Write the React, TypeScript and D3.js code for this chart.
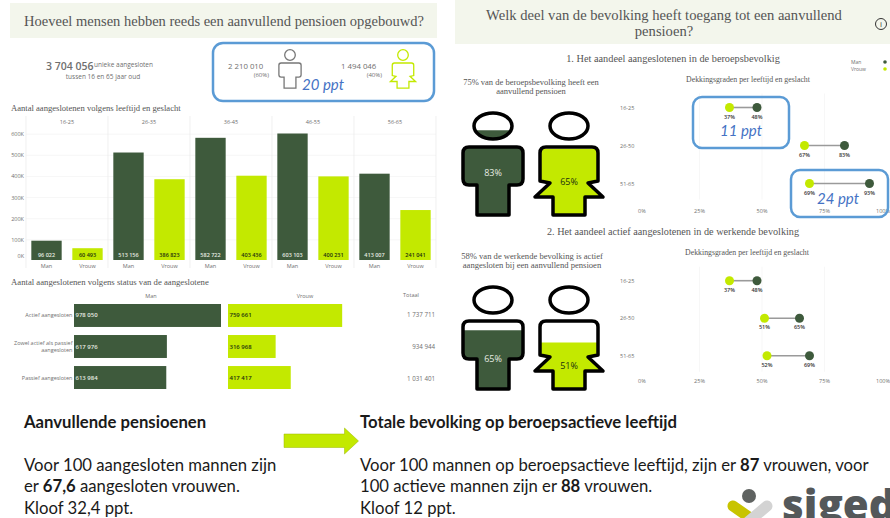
import * as d3 from 'd3'

const ages = ['16-25', '26-35', '36-45', '46-55', '56-65']
const genders = ['Man', 'Vrouw']
const menByAge = [96022, 513156, 582722, 603103, 413007]
const womenByAge = [60493, 386823, 403436, 400231, 241041]
const yTicks = [0, 100, 200, 300, 400, 500, 600]

const statuses = ['Actief aangesloten', 'Zowel actief als passief aangesloten', 'Passief aangesloten']
const menByStatus = [978050, 617976, 613984]
const womenByStatus = [759661, 316968, 417417]
const totalsByStatus = [1737711, 934944, 1031401]

const dumbbellAges = ['16-25', '26-50', '51-65']
const coverMen = [48, 83, 93]
const coverWomen = [37, 67, 69]
const activeMen = [48, 65, 69]
const activeWomen = [37, 51, 52]
const pctTicks = [0, 25, 50, 75, 100]

const DARK = '#3e5a3c'
const LIME = '#c3e900'
const BLUE = '#5b9bd5'
const PPT = '#4472c4'
const BAND = '#f3f6ec'
const GREY = '#6f6f6f'
const SERIF = '"Liberation Serif", serif'
const SANS = '"Open Sans", sans-serif'
const LATO = 'Lato, sans-serif'

const fmt = (v: number) => d3.format(',')(v).replace(/,/g, ' ')

const y = d3.scaleLinear().domain([0, 603103]).range([261, 133.5])
const ageBand = d3.scaleBand().domain(ages).range([26, 436])
const genderBand = d3.scaleBand().domain(genders).range([0, 82]).paddingInner(0.26).paddingOuter(0.13)
const statusBand = d3.scaleBand().domain(statuses).range([304, 389]).paddingInner(0.26)
const statusW = d3.scaleLinear().domain([0, 978050]).range([0, 147])
const pctX = d3.scaleLinear().domain([0, 100]).range([637, 887])

// outlines around a 0,0 centre at the top of the body
const manBody = (s: number) => {
  const w = 30 * s, h = 68 * s, sh = 38 * s, leg = 16 * s, r = 6 * s
  return `M${-w + r},0H${w - r}Q${w},0 ${w},${r}V${sh - r}Q${w},${sh} ${w - r},${sh}H${leg}V${h}H${-leg}V${sh}H${-w + r}Q${-w},${sh} ${-w},${sh - r}V${r}Q${-w},0 ${-w + r},0Z`
}
const womanBody = (s: number) => {
  const w = 29 * s, h = 68 * s, r = 6 * s
  return `M${-w + r},0H${w - r}Q${w},0 ${w},${r}V${34 * s}L${w - 10 * s},${36 * s}L${w + 5 * s},${50 * s}H${16 * s}V${h}H${-16 * s}V${50 * s}H${-w - 5 * s}L${-w + 10 * s},${36 * s}L${-w},${34 * s}V${r}Q${-w},0 ${-w + r},0Z`
}

function Figure({ cx, top, value, kind, color, labelY, labelFill, level }: {
  cx: number; top: number; value: number; kind: 'man' | 'woman'; color: string
  labelY: number; labelFill: string; level: d3.ScaleLinear<number, number>
}) {
  const id = `fill-${kind}-${Math.round(top)}`
  const body = kind === 'man' ? manBody(1) : womanBody(1)
  const bodyTop = top + 34
  const fillY = level(value)
  return (
    <g>
      <clipPath id={id}>
        <rect x={cx - 40} y={fillY} width={80} height={130} />
      </clipPath>
      <g clipPath={`url(#${id})`}>
        <ellipse cx={cx} cy={top + 13} rx={19} ry={13} fill={color} />
        <path d={body} transform={`translate(${cx},${bodyTop})`} fill={color} />
      </g>
      <ellipse cx={cx} cy={top + 13} rx={19} ry={13} fill="none" stroke="#000" strokeWidth={3.5} />
      <path d={body} transform={`translate(${cx},${bodyTop})`} fill="none" stroke="#000" strokeWidth={3.5} strokeLinejoin="round" />
      <text x={cx} y={labelY} textAnchor="middle" fontFamily={SANS} fontSize={9} fill={labelFill}>{value}%</text>
    </g>
  )
}

function Dumbbell({ men, women, rows, axisY, labelOffset }: {
  men: number[]; women: number[]; rows: [number, number]; axisY: number; labelOffset: number
}) {
  const rowY = d3.scalePoint<string>().domain(dumbbellAges).range(rows)
  return (
    <g fontFamily={SANS}>
      {pctTicks.slice(1, 4).map((t) => (
        <line key={t} x1={pctX(t)} x2={pctX(t)} y1={rows[0] - 14} y2={rows[1] + 16} stroke="#f4f4f4" strokeWidth={0.7} />
      ))}
      {dumbbellAges.map((a, i) => {
        const cy = rowY(a) as number
        return (
          <g key={a}>
            <text x={620} y={cy + 2} fontSize={5.5} fill={GREY}>{a}</text>
            <line x1={pctX(women[i])} x2={pctX(men[i])} y1={cy} y2={cy} stroke="#9a9a9a" strokeWidth={1.6} />
            <circle cx={pctX(women[i])} cy={cy} r={4.5} fill={LIME} />
            <circle cx={pctX(men[i])} cy={cy} r={4.5} fill={DARK} />
            <text x={pctX(women[i])} y={cy + labelOffset} textAnchor="middle" fontSize={5.5} fontWeight={600} fill="#333">{women[i]}%</text>
            <text x={pctX(men[i])} y={cy + labelOffset} textAnchor="middle" fontSize={5.5} fontWeight={600} fill="#333">{men[i]}%</text>
          </g>
        )
      })}
      {pctTicks.map((t) => (
        <text key={t} x={t === 0 ? pctX(t) + 1 : t === 100 ? 890 : pctX(t)} y={axisY} textAnchor={t === 0 ? 'start' : t === 100 ? 'end' : 'middle'} fontSize={5.5} fill={GREY}>{t}%</text>
      ))}
    </g>
  )
}

function AgeBars() {
  return (
    <g fontFamily={SANS}>
      {yTicks.map((t) => (
        <g key={t}>
          {t > 0 && <line x1={26} x2={436} y1={y(t * 1000)} y2={y(t * 1000)} stroke="#f2f2f2" strokeWidth={0.7} />}
          <text x={24} y={t === 0 ? 258 : y(t * 1000) + 2} textAnchor="end" fontSize={5.5} fill={GREY}>{t === 0 ? '0K' : `${t}K`}</text>
        </g>
      ))}
      {ages.map((age, i) => {
        const x0 = ageBand(age) as number
        return (
          <g key={age}>
            <line x1={x0} x2={x0} y1={116} y2={268} stroke="#e9e9e9" strokeWidth={0.7} />
            <text x={x0 + 41} y={124} textAnchor="middle" fontSize={5.5} fill={GREY}>{age}</text>
            {genders.map((g, j) => {
              const v = j === 0 ? menByAge[i] : womenByAge[i]
              const bx = x0 + (genderBand(g) as number)
              return (
                <g key={g}>
                  <rect x={bx} y={y(v)} width={genderBand.bandwidth()} height={y(0) - y(v) - 1} fill={j === 0 ? DARK : LIME} />
                  <text x={bx + genderBand.bandwidth() / 2} y={257} textAnchor="middle" fontSize={5.5} fontWeight={600} fill={j === 0 ? '#e6ece2' : '#22300f'}>{fmt(v)}</text>
                  <text x={bx + genderBand.bandwidth() / 2} y={268} textAnchor="middle" fontSize={5.5} fill={GREY}>{g}</text>
                </g>
              )
            })}
          </g>
        )
      })}
      <line x1={436} x2={436} y1={116} y2={268} stroke="#e9e9e9" strokeWidth={0.7} />
    </g>
  )
}

function StatusBars() {
  const rowLabels = [['Actief aangesloten'], ['Zowel actief als passief', 'aangesloten'], ['Passief aangesloten']]
  const totalShift = [0, 0, 1]
  return (
    <g fontFamily={SANS}>
      <text x={151} y={298} textAnchor="middle" fontSize={5.5} fill={GREY}>Man</text>
      <text x={305} y={298} textAnchor="middle" fontSize={5.5} fill={GREY}>Vrouw</text>
      <text x={411} y={297} textAnchor="middle" fontSize={5.5} fill={GREY}>Totaal</text>
      {statuses.map((s, i) => {
        const by = statusBand(s) as number
        const h = statusBand.bandwidth()
        const mid = by + h / 2
        return (
          <g key={s}>
            {rowLabels[i].map((l, k) => (
              <text key={l} x={72.5} y={mid + 2 + (k - (rowLabels[i].length - 1) / 2) * 7} textAnchor="end" fontSize={5.5} fill={GREY}>{l}</text>
            ))}
            <rect x={74} y={by} width={statusW(menByStatus[i])} height={h} fill={DARK} />
            <text x={75.5} y={mid + 2} fontSize={6} fontWeight={600} fill="#e6ece2">{fmt(menByStatus[i])}</text>
            <rect x={228} y={by} width={statusW(womenByStatus[i])} height={h} fill={LIME} />
            <text x={229.5} y={mid + 2} fontSize={6} fontWeight={600} fill="#22300f">{fmt(womenByStatus[i])}</text>
            <text x={435} y={mid + 2 + totalShift[i]} textAnchor="end" fontSize={6.2} fill={GREY}>{fmt(totalsByStatus[i])}</text>
          </g>
        )
      })}
    </g>
  )
}

export default function App() {
  const levelTop = d3.scaleLinear().domain([0, 100]).range([215, 113])
  const levelBottom = d3.scaleLinear().domain([0, 100]).range([388, 299])
  return (
    <svg width={890} height={518} style={{ position: 'absolute', left: 0, top: 0, background: '#fff' }}>
      {/* left column */}
      <rect x={10} y={3} width={427} height={35} fill={BAND} />
      <text x={224} y={26} textAnchor="middle" fontFamily={SERIF} fontSize={14.5} fill="#555">Hoeveel mensen hebben reeds een aanvullend pensioen opgebouwd?</text>

      <g fontFamily={SANS} fill={GREY}>
        <text x={46} y={70} fontSize={10.5} fontWeight={600}>3 704 056</text>
        <text x={94} y={67} fontSize={6.5}>unieke aangesloten</text>
        <text x={103} y={78.5} textAnchor="middle" fontSize={6.5}>tussen 16 en 65 jaar oud</text>
        <text x={228} y={69} fontSize={7.8}>2 210 010</text>
        <text x={269} y={77} textAnchor="end" fontSize={6}>(60%)</text>
        <text x={341} y={69} fontSize={7.8}>1 494 046</text>
        <text x={382} y={77} textAnchor="end" fontSize={6}>(40%)</text>
      </g>
      <rect x={213} y={43} width={221} height={58} rx={10} fill="none" stroke={BLUE} strokeWidth={2.5} />
      <circle cx={290} cy={55} r={5.3} fill="none" stroke="#777" strokeWidth={1.3} />
      <path d={manBody(0.37)} transform="translate(290,63)" fill="none" stroke="#777" strokeWidth={1.3} />
      <circle cx={403} cy={55} r={5.3} fill="none" stroke={LIME} strokeWidth={1.3} />
      <path d={womanBody(0.37)} transform="translate(403,63)" fill="none" stroke={LIME} strokeWidth={1.3} />
      <text x={323} y={90} textAnchor="middle" fontFamily={LATO} fontStyle="italic" fontSize={15} fill={PPT}>20 ppt</text>

      <text x={11} y={111} fontFamily={SERIF} fontSize={8.6} fill="#555">Aantal aangeslotenen volgens leeftijd en geslacht</text>
      <AgeBars />
      <text x={11} y={285} fontFamily={SERIF} fontSize={8.7} fill="#555">Aantal aangeslotenen volgens status van de aangeslotene</text>
      <StatusBars />

      {/* right column */}
      <rect x={455} y={0} width={435} height={44} fill={BAND} />
      <text x={664} y={20} textAnchor="middle" fontFamily={SERIF} fontSize={14.6} fill="#555">Welk deel van de bevolking heeft toegang tot een aanvullend</text>
      <text x={664} y={36} textAnchor="middle" fontFamily={SERIF} fontSize={14.6} fill="#555">pensioen?</text>
      <circle cx={881} cy={24} r={5.5} fill="none" stroke="#333" strokeWidth={1} />
      <text x={881} y={27} textAnchor="middle" fontFamily={SANS} fontSize={8} fill="#333">i</text>

      <g fontFamily={SERIF} fill="#555" textAnchor="middle">
        <text x={673} y={62} fontSize={10.3}>1. Het aandeel aangeslotenen in de beroepsbevolkig</text>
        <text x={531} y={85} fontSize={8.5}>75% van de beroepsbevolking heeft een</text>
        <text x={531} y={94} fontSize={8.5}>aanvullend pensioen</text>
        <text x={748} y={82} fontSize={7.8}>Dekkingsgraden per leeftijd en geslacht</text>
        <text x={673} y={235} fontSize={10.2}>2. Het aandeel actief aangeslotenen in de werkende bevolking</text>
        <text x={532} y={259} fontSize={8.6}>58% van de werkende bevolking is actief</text>
        <text x={532} y={268} fontSize={8.6}>aangesloten bij een aanvullend pensioen</text>
        <text x={747} y={255} fontSize={7.8}>Dekkingsgraden per leeftijd en geslacht</text>
      </g>
      <g fontFamily={SANS} fontSize={5} fill={GREY}>
        <text x={851} y={64}>Man</text>
        <text x={851} y={71}>Vrouw</text>
      </g>
      <circle cx={885} cy={62} r={1.8} fill={DARK} />
      <circle cx={885} cy={69} r={1.8} fill={LIME} />

      <Figure cx={493} top={113} value={83} kind="man" color={DARK} labelY={176} labelFill="#e6ece2" level={levelTop} />
      <Figure cx={569} top={113} value={65} kind="woman" color={LIME} labelY={185} labelFill="#22300f" level={levelTop} />
      <Figure cx={493} top={287} value={65} kind="man" color={DARK} labelY={362} labelFill="#e6ece2" level={levelBottom} />
      <Figure cx={569} top={287} value={51} kind="woman" color={LIME} labelY={369} labelFill="#22300f" level={levelBottom} />

      <Dumbbell men={coverMen} women={coverWomen} rows={[107.5, 183.5]} axisY={213} labelOffset={11} />
      <Dumbbell men={activeMen} women={activeWomen} rows={[280.7, 355.7]} axisY={383} labelOffset={11} />

      <rect x={693} y={97} width={96} height={51} rx={9} fill="none" stroke={BLUE} strokeWidth={2.5} />
      <text x={741} y={136} textAnchor="middle" fontFamily={LATO} fontStyle="italic" fontSize={15} fill={PPT}>11 ppt</text>
      <rect x={791} y={170} width={97} height={47} rx={9} fill="none" stroke={BLUE} strokeWidth={2.5} />
      <text x={838} y={204} textAnchor="middle" fontFamily={LATO} fontStyle="italic" fontSize={15} fill={PPT}>24 ppt</text>

      {/* bottom notes */}
      <g fontFamily={LATO} fontSize={16.7} fill="#1a1a1a">
        <text x={24} y={428} fontWeight={700}>Aanvullende pensioenen</text>
        <text x={360} y={428} fontWeight={700}>Totale bevolking op beroepsactieve leeftijd</text>
        <text x={24} y={471}>Voor 100 aangesloten mannen zijn</text>
        <text x={24} y={492}>er <tspan fontWeight={700}>67,6</tspan>  aangesloten vrouwen.</text>
        <text x={24} y={514}>Kloof 32,4 ppt.</text>
        <text x={360} y={471}>Voor 100 mannen op beroepsactieve leeftijd, zijn er <tspan fontWeight={700}>87</tspan> vrouwen, voor</text>
        <text x={360} y={492}>100 actieve mannen zijn er <tspan fontWeight={700}>88</tspan> vrouwen.</text>
        <text x={360} y={514}>Kloof 12 ppt.</text>
      </g>
      <path d="M284,434H344.5V428L358.5,441L344.5,454V447.5H284Z" fill={LIME} stroke="#9bb700" strokeWidth={0.5} />

      {/* logo */}
      <line x1={733} y1={506} x2={756} y2={522} stroke="#c8c400" strokeWidth={11} strokeLinecap="round" />
      <line x1={767} y1={506} x2={748} y2={522} stroke="#d3d3d3" strokeWidth={11} strokeLinecap="round" />
      <circle cx={749} cy={496} r={7} fill="#5f6361" />
      <text x={782} y={520} fontFamily={SANS} fontSize={42} fontWeight={800} fill="#54585a">sigedis</text>
    </svg>
  )
}
